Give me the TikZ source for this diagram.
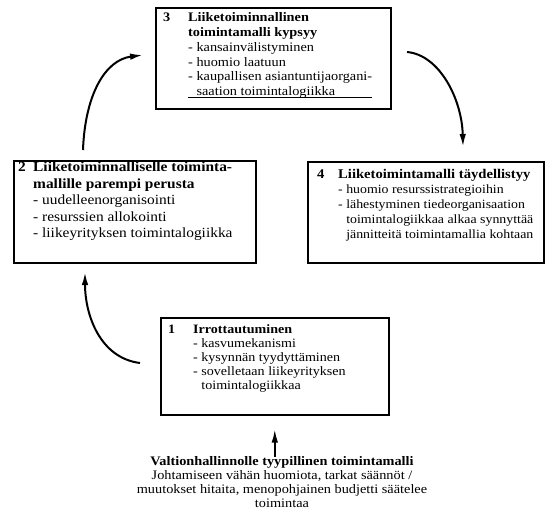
\documentclass[tikz,border=0pt]{standalone}
\usepackage{fontspec}
\setmainfont{Liberation Serif}[FakeStretch=1.1]
\usetikzlibrary{arrows.meta,positioning,calc}
\begin{document}
\begin{tikzpicture}[x=1pt,y=-1pt,>={Latex[length=13pt,width=6.5pt]},
  box/.style={draw,line width=1.6pt,anchor=north west,inner sep=0pt},
  num/.style={anchor=north west,inner sep=0pt,font=\fontsize{#1}{15}\selectfont\bfseries},
  txt/.style={anchor=north west,inner sep=0pt,align=left},
  bendarrow/.style={line width=2pt,->}]
      \useasboundingbox (0,0) rectangle (546,516);
      \node[box,minimum width=235,minimum height=101] (b3) at (155,7) {};
      \node[box,minimum width=242,minimum height=102] (b2) at (13,160) {};
      \node[box,minimum width=236,minimum height=101] (b4) at (307,161) {};
      \node[box,minimum width=228,minimum height=97] (b1) at (160,317) {};
      \node[num=13] (n3) at (163,12.5) {3};
      \node[txt,font=\fontsize{13}{14.8}\selectfont] (t3) at (188,12.5) {\textbf{Liiketoiminnallinen}\\ \textbf{toimintamalli kypsyy}\\ - kansainvälistyminen\\ - huomio laatuun\\ - kaupallisen asiantuntijaorgani-\\ \phantom{- }saation toimintalogiikka};
      \draw[line width=1pt] (188,98) -- (372,98);
      \node[num=14] (n2) at (18,162) {2};
      \node[txt,font=\fontsize{14}{16.5}\selectfont] (t2) at (33,162) {\textbf{Liiketoiminnalliselle toiminta-}\\ \textbf{mallille parempi perusta}\\ - uudelleenorganisointi\\ - resurssien allokointi\\ - liikeyrityksen toimintalogiikka};
      \node[num=13.3] (n4) at (317,169.5) {4};
      \node[txt,font=\fontsize{12.6}{15}\selectfont] (t4) at (338,169.5) {{\fontsize{13.3}{15}\selectfont\bfseries Liiketoimintamalli täydellistyy}\\ - huomio resurssistrategioihin\\ - lähestyminen tiedeorganisaation\\ \phantom{- }toimintalogiikkaa alkaa synnyttää\\ \phantom{- }jännitteitä toimintamallia kohtaan};
      \node[num=12.8] (n1) at (168,324.5) {1};
      \node[txt,font=\fontsize{12.8}{14}\selectfont] (t1) at (193,324.5) {\textbf{Irrottautuminen}\\ - kasvumekanismi\\ - kysynnän tyydyttäminen\\ - sovelletaan liikeyrityksen\\ \phantom{- }toimintalogiikkaa};
      \node[anchor=north,inner sep=0pt,align=center,font=\fontsize{13}{14}\selectfont] (cap) at (282,456.5) {\textbf{Valtionhallinnolle tyypillinen toimintamalli}\\ Johtamiseen vähän huomiota, tarkat säännöt /\\ muutokset hitaita, menopohjainen budjetti säätelee\\ toimintaa};
      \coordinate (s23) at (83,150);
      \coordinate (e23) at (143,55);
      \coordinate (s34) at (407,52);
      \coordinate (e34) at (463,147);
      \coordinate (s12) at (140,363);
      \coordinate (e12) at (85,272);
      \draw[bendarrow] (s23) .. controls (85,95) and (105,60) .. (e23);
      \draw[bendarrow] (s34) .. controls (440,55) and (462,100) .. (e34);
      \draw[bendarrow] (s12) .. controls (100,358) and (85,315) .. (e12);
      \draw[line width=1.6pt,->,shorten >=14pt] (cap.north -| b1.south) -- (b1.south);
\end{tikzpicture}
\end{document}
